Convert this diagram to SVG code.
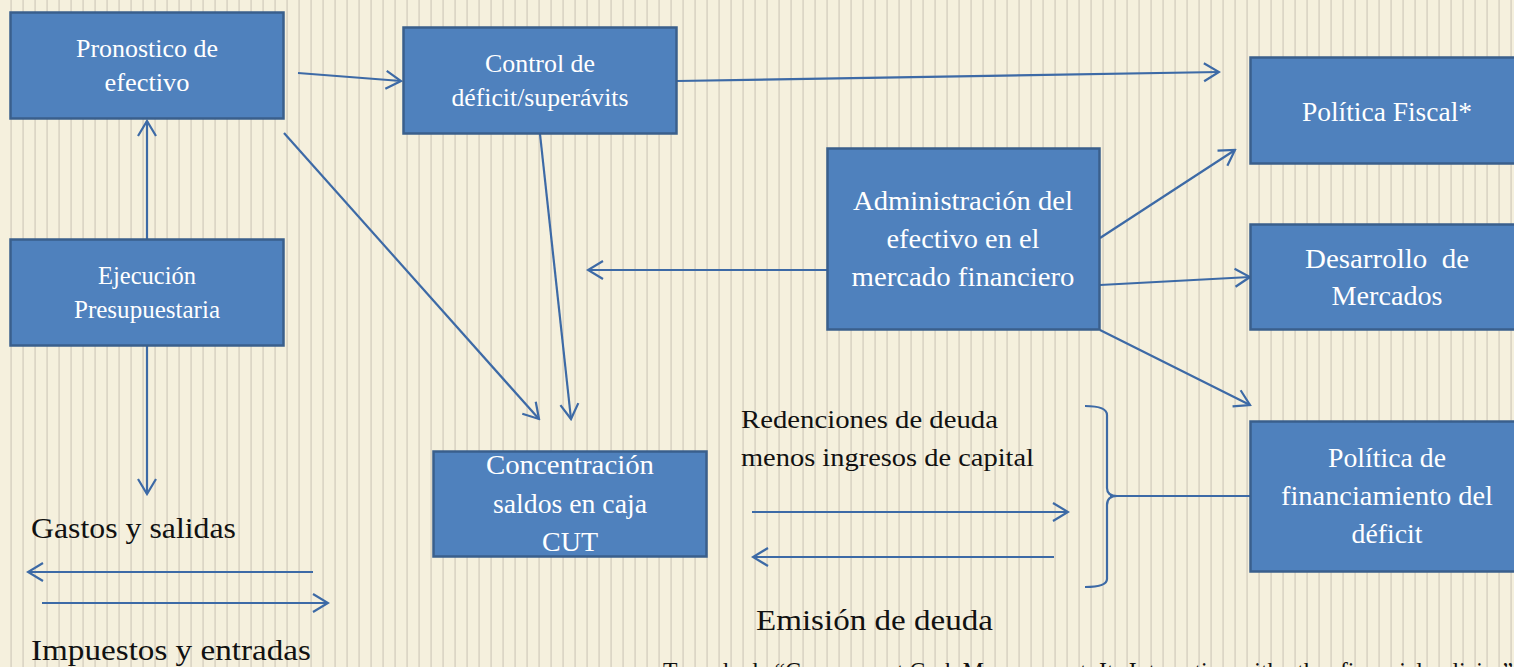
<svg xmlns="http://www.w3.org/2000/svg" width="1514" height="667" viewBox="0 0 1514 667">
<style>
.box{fill:#4f81bd;stroke:#3a5f8c;stroke-width:2.5}
.bt{fill:#ffffff;font-family:"Liberation Serif","DejaVu Serif","Noto Serif","Times New Roman",serif;text-anchor:middle}
.s{font-size:25px}
.b{font-size:27px}
.ft{fill:#111111;font-family:"Liberation Serif","DejaVu Serif","Noto Serif","Times New Roman",serif}
.c{fill:none;stroke:#3d6aa6;stroke-width:2.2}
</style>
<defs>
<pattern id="stripes" x="0" y="0" width="12" height="12" patternUnits="userSpaceOnUse">
<rect x="0" y="0" width="12" height="12" fill="#f5f0dd"/>
<rect x="10.3" y="0" width="1.6" height="12" fill="#dad4c4"/>
</pattern>
<marker id="ah" viewBox="-17 -11 19 22" refX="0" refY="0" markerWidth="19" markerHeight="22" markerUnits="userSpaceOnUse" orient="auto">
<path d="M-15,-9 L0,0 L-15,9" fill="none" stroke="#3d6aa6" stroke-width="2.2"/>
</marker>
</defs>
<rect x="0" y="0" width="1514" height="667" fill="url(#stripes)"/>

<g id="connectors">
<line class="c" x1="298" y1="73" x2="401" y2="81" marker-end="url(#ah)"/>
<line class="c" x1="677" y1="81" x2="1219" y2="72" marker-end="url(#ah)"/>
<line class="c" x1="284" y1="133" x2="539" y2="419" marker-end="url(#ah)"/>
<line class="c" x1="540" y1="134" x2="571" y2="419" marker-end="url(#ah)"/>
<line class="c" x1="147" y1="239" x2="147" y2="121" marker-end="url(#ah)"/>
<line class="c" x1="147" y1="346" x2="147" y2="494" marker-end="url(#ah)"/>
<line class="c" x1="827" y1="270" x2="588" y2="270" marker-end="url(#ah)"/>
<line class="c" x1="1100" y1="238" x2="1235" y2="150" marker-end="url(#ah)"/>
<line class="c" x1="1100" y1="285" x2="1250" y2="277" marker-end="url(#ah)"/>
<line class="c" x1="1100" y1="330" x2="1250" y2="405" marker-end="url(#ah)"/>
<line class="c" x1="313" y1="572" x2="28" y2="572" marker-end="url(#ah)"/>
<line class="c" x1="42" y1="603" x2="328" y2="603" marker-end="url(#ah)"/>
<line class="c" x1="752" y1="512" x2="1068" y2="512" marker-end="url(#ah)"/>
<line class="c" x1="1054" y1="557" x2="753" y2="557" marker-end="url(#ah)"/>
<path class="c" d="M1085,406 Q1107,406 1107,415 L1107,488 Q1107,496 1117,496 Q1107,496 1107,505 L1107,579 Q1107,587 1085,587"/>
<line class="c" x1="1110" y1="496" x2="1250" y2="496"/>
</g>

<g id="pronostico">
<rect class="box" x="10.5" y="12.5" width="273" height="106"/>
<text class="bt s" x="147" y="57" textLength="142" lengthAdjust="spacingAndGlyphs">Pronostico de</text>
<text class="bt s" x="147" y="91" textLength="85" lengthAdjust="spacingAndGlyphs">efectivo</text>
</g>

<g id="control">
<rect class="box" x="403.5" y="27.5" width="273" height="106"/>
<text class="bt s" x="540" y="72" textLength="110" lengthAdjust="spacingAndGlyphs">Control de</text>
<text class="bt s" x="540" y="106" textLength="177" lengthAdjust="spacingAndGlyphs">déficit/superávits</text>
</g>

<g id="ejecucion">
<rect class="box" x="10.5" y="239.5" width="273" height="106"/>
<text class="bt s" x="147" y="284" textLength="98" lengthAdjust="spacingAndGlyphs">Ejecución</text>
<text class="bt s" x="147" y="318" textLength="146" lengthAdjust="spacingAndGlyphs">Presupuestaria</text>
</g>

<g id="administracion">
<rect class="box" x="827.5" y="148.5" width="272" height="181"/>
<text class="bt b" x="963" y="210" textLength="220" lengthAdjust="spacingAndGlyphs">Administración del</text>
<text class="bt b" x="963" y="248" textLength="153" lengthAdjust="spacingAndGlyphs">efectivo en el</text>
<text class="bt b" x="963" y="286" textLength="223" lengthAdjust="spacingAndGlyphs">mercado financiero</text>
</g>

<g id="politica-fiscal">
<rect class="box" x="1250.5" y="57.5" width="270" height="106"/>
<text class="bt b" x="1387" y="121" textLength="170" lengthAdjust="spacingAndGlyphs">Política Fiscal*</text>
</g>

<g id="desarrollo">
<rect class="box" x="1250.5" y="224.5" width="270" height="105"/>
<text class="bt b" x="1387" y="268" xml:space="preserve" textLength="164" lengthAdjust="spacingAndGlyphs">Desarrollo  de</text>
<text class="bt b" x="1387" y="305" textLength="111" lengthAdjust="spacingAndGlyphs">Mercados</text>
</g>

<g id="financiamiento">
<rect class="box" x="1250.5" y="421.5" width="270" height="150"/>
<text class="bt b" x="1387" y="467" textLength="118" lengthAdjust="spacingAndGlyphs">Política de</text>
<text class="bt b" x="1387" y="505" textLength="212" lengthAdjust="spacingAndGlyphs">financiamiento del</text>
<text class="bt b" x="1387" y="543" textLength="71" lengthAdjust="spacingAndGlyphs">déficit</text>
</g>

<g id="cut">
<rect class="box" x="433.5" y="451.5" width="273" height="105"/>
<text class="bt b" x="570" y="474" textLength="168" lengthAdjust="spacingAndGlyphs">Concentración</text>
<text class="bt b" x="570" y="513" textLength="154" lengthAdjust="spacingAndGlyphs">saldos en caja</text>
<text class="bt b" x="570" y="551" textLength="56" lengthAdjust="spacingAndGlyphs">CUT</text>
</g>

<g id="labels">
<text class="ft" x="31" y="538" font-size="29" textLength="205" lengthAdjust="spacingAndGlyphs">Gastos y salidas</text>
<text class="ft" x="31" y="660" font-size="29" textLength="280" lengthAdjust="spacingAndGlyphs">Impuestos y entradas</text>
<text class="ft" x="741" y="428" font-size="26" textLength="257" lengthAdjust="spacingAndGlyphs">Redenciones de deuda</text>
<text class="ft" x="741" y="466" font-size="26" textLength="293" lengthAdjust="spacingAndGlyphs">menos ingresos de capital</text>
<text class="ft" x="756" y="630" font-size="29" textLength="237" lengthAdjust="spacingAndGlyphs">Emisión de deuda</text>
<text class="ft" x="663" y="680" font-size="25" textLength="850" lengthAdjust="spacingAndGlyphs">Tomado de “Government Cash Management: Its Interaction with other financial policies”</text>
</g>
</svg>
